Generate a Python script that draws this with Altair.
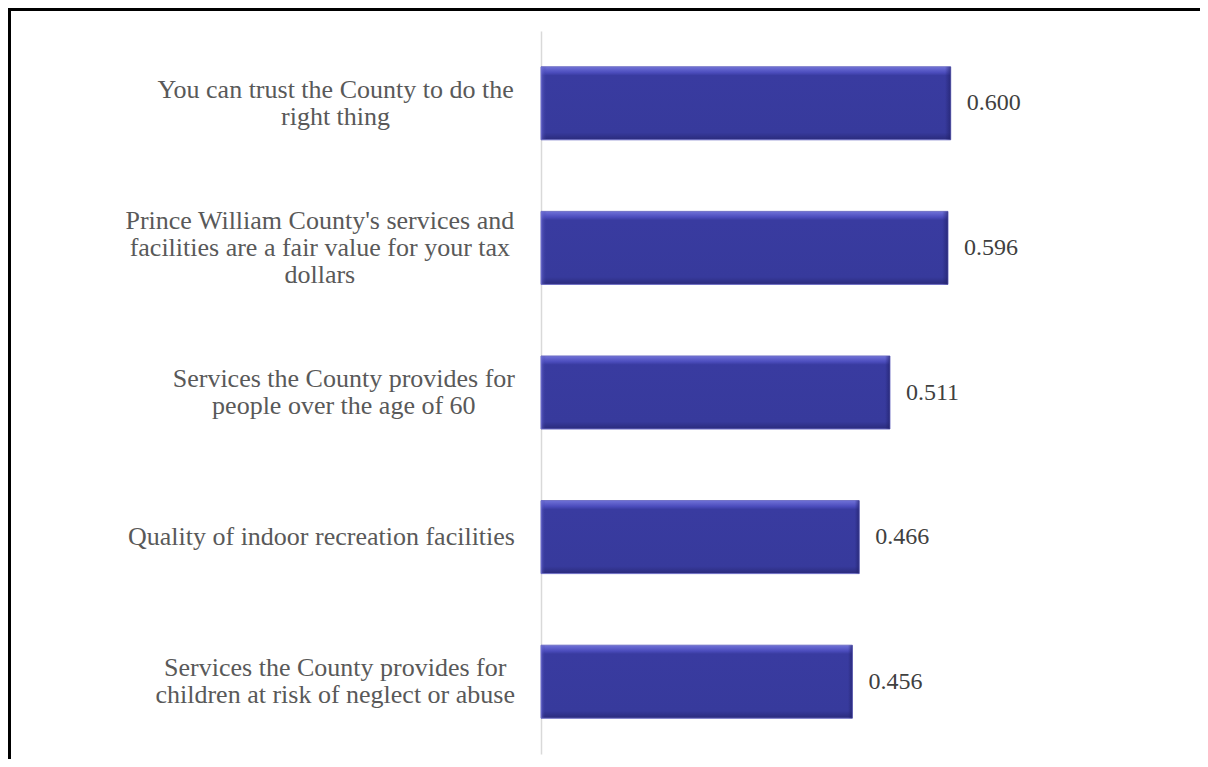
import altair as alt
import pandas as pd

categories = [
    "You can trust the County to do the right thing",
    "Prince William County's services and facilities are a fair value for your tax dollars",
    "Services the County provides for people over the age of 60",
    "Quality of indoor recreation facilities",
    "Services the County provides for children at risk of neglect or abuse",
]
label_lines = [
    ["You can trust the County to do the", "right thing"],
    ["Prince William County's services and", "facilities are a fair value for your tax", "dollars"],
    ["Services the County provides for", "people over the age of 60"],
    ["Quality of indoor recreation facilities"],
    ["Services the County provides for", "children at risk of neglect or abuse"],
]
values = [0.600, 0.596, 0.511, 0.466, 0.456]

FONT = "Liberation Serif"
FS = 26
VFS = 24
LH = 27

# approximate glyph advance widths (1/1000 em) of a Times-metric serif font,
# used only to centre each multi-line label block against the axis
_W = {" ": 250, "'": 180, ".": 250,
      "A": 722, "B": 667, "C": 667, "D": 722, "E": 611, "F": 556, "G": 722, "H": 722,
      "I": 333, "J": 389, "K": 722, "L": 611, "M": 889, "N": 722, "O": 722, "P": 556,
      "Q": 722, "R": 667, "S": 556, "T": 611, "U": 722, "V": 722, "W": 944, "X": 722,
      "Y": 722, "Z": 611,
      "a": 444, "b": 500, "c": 444, "d": 500, "e": 444, "f": 333, "g": 500, "h": 500,
      "i": 278, "j": 278, "k": 500, "l": 278, "m": 778, "n": 500, "o": 500, "p": 500,
      "q": 500, "r": 333, "s": 389, "t": 278, "u": 500, "v": 500, "w": 722, "x": 500,
      "y": 500, "z": 444}


def text_width(s):
    return sum(_W.get(ch, 500) for ch in s) / 1000.0 * FS


df = pd.DataFrame({
    "cat": categories,
    "value": values,
    "lines": label_lines,
    "w": [max(text_width(s) for s in ls) for ls in label_lines],
    "n": [len(ls) for ls in label_lines],
})

y_enc = alt.Y(
    "cat:N",
    sort=categories,
    title=None,
    scale=alt.Scale(paddingInner=0.495, paddingOuter=0.2475),
    axis=alt.Axis(labels=False, ticks=False, grid=False, domainColor="#d9d9d9", domainWidth=1.5),
)
x_enc = alt.X("value:Q", scale=alt.Scale(domain=[0, 0.7]), axis=None)

base = alt.Chart(df)

bars = base.mark_bar(
    color=alt.Gradient(
        gradient="linear", x1=0, y1=0, x2=0, y2=1,
        stops=[
            alt.GradientStop(offset=0, color="#7072d8"),
            alt.GradientStop(offset=0.08, color="#4b4cbc"),
            alt.GradientStop(offset=0.12, color="#393ba0"),
            alt.GradientStop(offset=0.9, color="#373a9c"),
            alt.GradientStop(offset=1, color="#2a2b7c"),
        ],
    ),
    stroke="#6d6dc4",
    strokeWidth=1,
).encode(x=x_enc, y=y_enc)

bevel = base.mark_bar(
    color=alt.Gradient(
        gradient="linear", x1=0, y1=0, x2=1, y2=0,
        stops=[
            alt.GradientStop(offset=0, color="rgba(120,120,220,0.55)"),
            alt.GradientStop(offset=0.014, color="rgba(57,59,160,0)"),
            alt.GradientStop(offset=0.986, color="rgba(30,30,100,0)"),
            alt.GradientStop(offset=1, color="rgba(30,30,100,0.6)"),
        ],
    ),
).encode(x=x_enc, y=y_enc)

value_text = base.mark_text(
    align="left", baseline="middle", dx=16, font=FONT, fontSize=VFS, color="#404040"
).encode(x=x_enc, y=y_enc, text=alt.Text("value:Q", format=".3f"))

cat_text = base.mark_text(
    align="center", baseline="middle", font=FONT, fontSize=FS, lineHeight=LH,
    color="#595959", dx=alt.expr("-datum.w/2"), dy=alt.expr(f"-(datum.n-1)*{LH}/2"),
).encode(x=alt.value(-26), y=y_enc, text="lines")

one = alt.Chart(pd.DataFrame({"a": [0]}))
top_border = one.mark_rule(color="black", strokeWidth=3).encode(
    x=alt.value(-533), x2=alt.value(700), y=alt.value(-21.5)
)
left_border = one.mark_rule(color="black", strokeWidth=3).encode(
    x=alt.value(-531.5), y=alt.value(-23), y2=alt.value(740)
)

chart = alt.layer(bars, bevel, value_text, cat_text, top_border, left_border).properties(
    width=478,
    height=723,
    padding={"left": 533, "top": 23, "right": 181, "bottom": 5},
    autosize=alt.AutoSizeParams(type="none"),
).configure_view(stroke=None)

chart.save("out.html", embed_options={"renderer": "svg", "actions": False})
